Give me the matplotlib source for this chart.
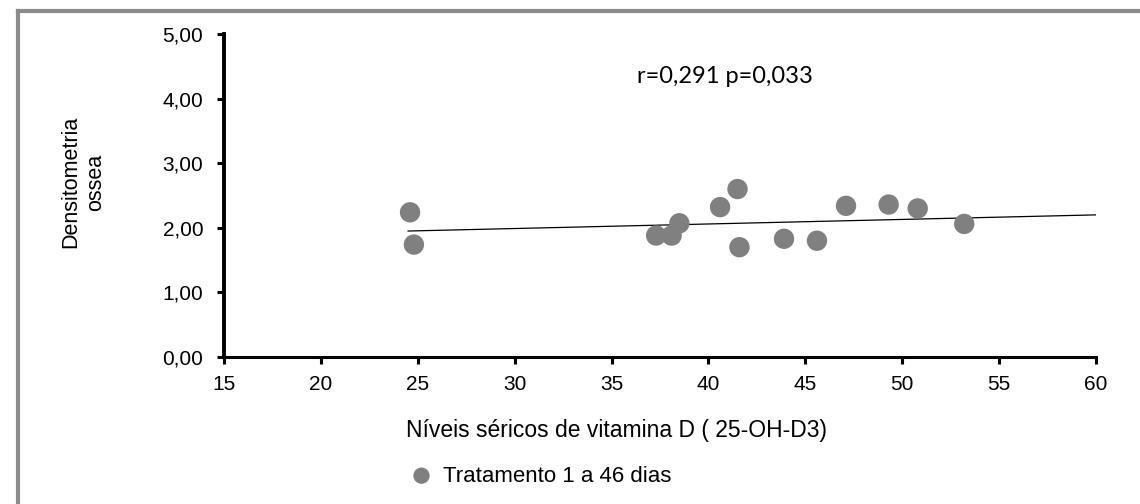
import matplotlib.pyplot as plt
from matplotlib.lines import Line2D

plt.rcParams['font.family'] = ['Liberation Sans', 'DejaVu Sans']

# dados
vit_d = [24.6, 24.8, 37.3, 38.1, 38.5, 40.6, 41.5, 41.6, 43.9, 45.6, 47.1, 49.3, 50.8, 53.2]
dens = [2.24, 1.74, 1.88, 1.88, 2.07, 2.32, 2.60, 1.70, 1.83, 1.80, 2.34, 2.36, 2.30, 2.06]

# linha de tendência (extremos)
trend_x = [24.5, 60]
trend_y = [1.95, 2.20]

x_ticks = [15, 20, 25, 30, 35, 40, 45, 50, 55, 60]
y_ticks = [0, 1, 2, 3, 4, 5]

fig = plt.figure(figsize=(11.4, 5.04), dpi=100)
ax = fig.add_axes([0.1965, 0.2917, 0.7649, 0.6408])

ax.plot(trend_x, trend_y, color='black', lw=0.9, zorder=2)
ax.scatter(vit_d, dens, s=215, color='#808080', edgecolors='none', zorder=3,
           label='Tratamento 1 a 46 dias')

ax.set_xlim(15, 60)
ax.set_ylim(0, 5)
ax.set_xticks(x_ticks)
ax.set_yticks(y_ticks)
ax.set_yticklabels([('%.2f' % v).replace('.', ',') for v in y_ticks])

for s in ['top', 'right']:
    ax.spines[s].set_visible(False)
ax.spines['left'].set_linewidth(2.8)
ax.spines['bottom'].set_linewidth(2.2)
ax.tick_params(axis='both', direction='out', length=5, width=2.2, labelsize=15, colors='black')
ax.tick_params(axis='x', pad=8)
ax.tick_params(axis='y', pad=10)

fig.text(616 / 1140, 1 - 430 / 504, 'Níveis séricos de vitamina D ( 25-OH-D3)', fontsize=16.5,
         ha='center', va='center')
fig.text(0.073, 0.639, 'Densitometria\nossea', rotation=90, fontsize=15.5,
         ha='center', va='center', multialignment='center', linespacing=1.3)

fig.text(0.636, 0.849, 'r=0,291 p=0,033', fontsize=17, ha='center', va='center',
         family=['Lato', 'DejaVu Sans'])

fig.legend(loc='center left', bbox_to_anchor=(0.36, 1 - 476 / 504), frameon=False,
           fontsize=16, handlelength=1.0, handletextpad=0.45, borderaxespad=0,
           borderpad=0, markerscale=0.8)

# moldura do gráfico (só topo e esquerda aparecem)
fig.add_artist(Line2D([18 / 1140, 1], [1 - 11 / 504, 1 - 11 / 504], transform=fig.transFigure,
                      color='#8c8c8c', lw=3))
fig.add_artist(Line2D([18 / 1140, 18 / 1140], [0, 1 - 11 / 504], transform=fig.transFigure,
                      color='#8c8c8c', lw=3))

fig.savefig('out.png', dpi=100)
